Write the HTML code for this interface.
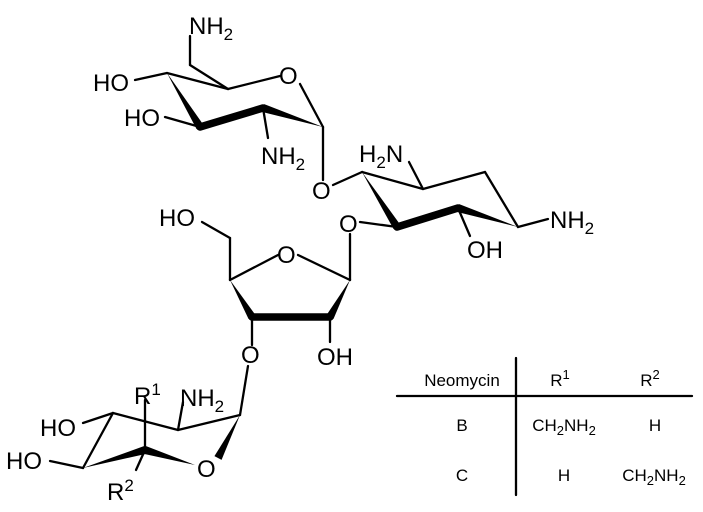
<!DOCTYPE html>
<html><head><meta charset="utf-8"><style>
html,body{margin:0;padding:0;background:#fff;width:703px;height:512px;overflow:hidden}
svg{display:block}
text{font-family:"Liberation Sans",sans-serif;fill:#000}
.m{font-size:24px}
.t{font-size:17px}
</style></head><body>
<svg id="sv" width="703" height="512" viewBox="0 0 703 512" stroke="#000" stroke-width="2.3" fill="none" stroke-linecap="round">
<g id="lines">
<line x1="190" y1="36" x2="190" y2="65"/>
<line x1="190" y1="65" x2="228" y2="89"/>
<line x1="167" y1="73" x2="228" y2="89"/>
<line x1="228" y1="89" x2="280" y2="76"/>
<line x1="300" y1="84" x2="323" y2="127"/>
<line x1="135" y1="80" x2="167" y2="73"/>
<line x1="165" y1="117" x2="200" y2="127"/>
<line x1="263" y1="108" x2="268" y2="138"/>
<line x1="323" y1="127" x2="323" y2="180"/>
<line x1="333" y1="185" x2="362" y2="172"/>
<line x1="362" y1="172" x2="423" y2="189"/>
<line x1="409" y1="162" x2="423" y2="189"/>
<line x1="423" y1="189" x2="485" y2="172"/>
<line x1="485" y1="172" x2="518" y2="227"/>
<line x1="518" y1="227" x2="548" y2="219"/>
<line x1="458" y1="208" x2="470" y2="236"/>
<line x1="360" y1="222" x2="397" y2="227"/>
<line x1="350" y1="234" x2="350" y2="280"/>
<line x1="202" y1="222" x2="230" y2="238"/>
<line x1="230" y1="238" x2="230" y2="280"/>
<line x1="230" y1="280" x2="278" y2="255"/>
<line x1="298" y1="255" x2="350" y2="280"/>
<line x1="330" y1="317" x2="330" y2="342"/>
<line x1="252" y1="317" x2="252" y2="345"/>
<line x1="248" y1="366" x2="240" y2="415"/>
<line x1="178" y1="430" x2="240" y2="415"/>
<line x1="178" y1="430" x2="183" y2="402"/>
<line x1="113" y1="413" x2="178" y2="430"/>
<line x1="145" y1="400" x2="145" y2="450"/>
<line x1="83" y1="423" x2="113" y2="413"/>
<line x1="113" y1="413" x2="83" y2="468"/>
<line x1="50" y1="461" x2="83" y2="468"/>
<line x1="145" y1="450" x2="136" y2="470"/>
<line x1="516" y1="358" x2="516" y2="495"/>
<line x1="397" y1="396" x2="692" y2="396"/>
</g>
<g id="wedges" fill="#000" stroke="none"></g>
<g stroke="none">
<text class="m" x="189" y="34">NH<tspan font-size="17" dy="6">2</tspan></text>
<text class="m" x="279" y="84">O</text>
<text class="m" x="93" y="91">HO</text>
<text class="m" x="124" y="126">HO</text>
<text class="m" x="261" y="164">NH<tspan font-size="17" dy="6">2</tspan></text>
<text class="m" x="312" y="199">O</text>
<text class="m" x="359" y="162">H<tspan font-size="17" dy="6">2</tspan><tspan dy="-6">N</tspan></text>
<text class="m" x="550" y="228">NH<tspan font-size="17" dy="6">2</tspan></text>
<text class="m" x="339" y="232">O</text>
<text class="m" x="467" y="258">OH</text>
<text class="m" x="159" y="226">HO</text>
<text class="m" x="277" y="263">O</text>
<text class="m" x="317" y="365">OH</text>
<text class="m" x="241" y="363">O</text>
<text class="m" x="180" y="406">NH<tspan font-size="17" dy="6">2</tspan></text>
<text class="m" x="134" y="404">R<tspan font-size="17" dy="-9">1</tspan></text>
<text class="m" x="40" y="436">HO</text>
<text class="m" x="6" y="469">HO</text>
<text class="m" x="197" y="477">O</text>
<text class="m" x="107" y="500">R<tspan font-size="17" dy="-9">2</tspan></text>
<text class="t" x="462" y="386" text-anchor="middle">Neomycin</text>
<text class="t" x="560" y="386" text-anchor="middle">R<tspan font-size="13" dy="-7">1</tspan></text>
<text class="t" x="650" y="386" text-anchor="middle">R<tspan font-size="13" dy="-7">2</tspan></text>
<text class="t" x="462" y="431" text-anchor="middle">B</text>
<text class="t" x="564" y="431" text-anchor="middle">CH<tspan font-size="13" dy="4">2</tspan><tspan dy="-4">NH</tspan><tspan font-size="13" dy="4">2</tspan></text>
<text class="t" x="655" y="431" text-anchor="middle">H</text>
<text class="t" x="462" y="481" text-anchor="middle">C</text>
<text class="t" x="564" y="481" text-anchor="middle">H</text>
<text class="t" x="654" y="481" text-anchor="middle">CH<tspan font-size="13" dy="4">2</tspan><tspan dy="-4">NH</tspan><tspan font-size="13" dy="4">2</tspan></text>
</g>
</svg>
<script>
var g=document.getElementById('wedges');
function w(x1,y1,x2,y2,h){var dx=x2-x1,dy=y2-y1,l=Math.hypot(dx,dy),px=-dy/l*h,py=dx/l*h;
var p=document.createElementNS('http://www.w3.org/2000/svg','polygon');
p.setAttribute('points',x1+','+y1+' '+(x2+px)+','+(y2+py)+' '+(x2-px)+','+(y2-py));g.appendChild(p);}
function b(x1,y1,x2,y2){var l=document.createElementNS('http://www.w3.org/2000/svg','line');
l.setAttribute('x1',x1);l.setAttribute('y1',y1);l.setAttribute('x2',x2);l.setAttribute('y2',y2);
l.setAttribute('stroke','#000');l.setAttribute('stroke-width','7.5');l.setAttribute('stroke-linecap','round');g.appendChild(l);}
w(167,73,200,127,4); b(200,127,263,108); w(323,127,263,108,4);
w(362,172,397,227,4); b(397,227,458,208); w(518,227,458,208,4);
w(230,280,252,317,4); b(252,317,330,317); w(350,280,330,317,4);
w(240,415,218,458,4); w(83,468,145,450,4); w(195,465,145,450,4);
</script>
</body></html>
